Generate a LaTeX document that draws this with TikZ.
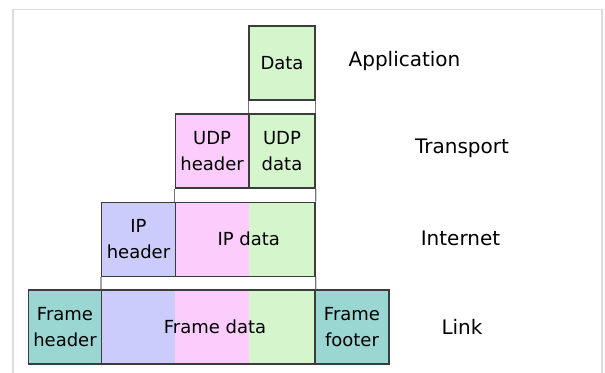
\documentclass[tikz,border=0pt]{standalone}
\usepackage{fontspec}
\setmainfont{DejaVu Sans}
\definecolor{dgreen}{RGB}{213,246,204}
\definecolor{dpink}{RGB}{252,204,252}
\definecolor{dlav}{RGB}{204,204,252}
\definecolor{dteal}{RGB}{154,214,210}
\definecolor{edge}{RGB}{60,60,60}
\definecolor{framegray}{RGB}{220,220,220}
\begin{document}
\begin{tikzpicture}[x=0.75pt,y=-0.75pt,
  pkt/.style={draw=edge,line width=1.1pt,rectangle,inner sep=0pt,minimum height=55.5pt,
    align=center,font=\fontsize{13.5}{19.5}\selectfont},
  layer/.style={font=\fontsize{15}{18}\selectfont,inner sep=0pt},
  gapline/.style={draw=edge!70,line width=0.9pt}]
\useasboundingbox (0,0) rectangle (605,372);
\draw[framegray,line width=1.2pt] (13,9.5) rectangle (602,390);
% fills of composite boxes
\fill[dpink] (175.3,202) rectangle (249,276.5);
\fill[dgreen] (249,202) rectangle (315,276.5);
\fill[dlav] (101.7,290) rectangle (175.3,364);
\fill[dpink] (175.3,290) rectangle (249,364);
\fill[dgreen] (249,290) rectangle (315,364);
% boxes
\node[pkt,fill=dgreen,minimum width=49.5pt] (data) at (282,63) {Data};
\node[pkt,fill=dpink,minimum width=55.3pt] (udph) at (212.15,151) {UDP\\header};
\node[pkt,fill=dgreen,minimum width=49.5pt] (udpd) at (282,151) {UDP\\data};
\node[pkt,fill=dlav,minimum width=55.2pt] (iph) at (138.5,239.25) {IP\\header};
\node[pkt,minimum width=104.8pt] (ipd) at (245.15,239.25) {\hspace*{5.4pt}IP data};
\node[pkt,fill=dteal,minimum width=55pt] (fh) at (65,327) {Frame\\header};
\node[pkt,minimum width=160pt] (fd) at (208.35,327) {\hspace*{10pt}Frame data};
\node[pkt,fill=dteal,minimum width=55.5pt] (ff) at (352,327) {Frame\\footer};
% connecting lines in the gaps
\draw[gapline] (data.south west) -- (udpd.north west);
\draw[gapline] (data.south east) -- (udpd.north east);
\draw[gapline] (udph.south west) -- (ipd.north west);
\draw[gapline] (udpd.south east) -- (ipd.north east);
\draw[gapline] (iph.south west) -- (fd.north west);
\draw[gapline] (ipd.south east) -- (fd.north east);
% layer labels
\node[layer] (lapp) at (404.5,61) {Application};
\node[layer] (ltra) at (462,148) {Transport};
\node[layer] (lint) at (460.5,238) {Internet};
\node[layer] (llnk) at (462,327) {Link};
\end{tikzpicture}
\end{document}
